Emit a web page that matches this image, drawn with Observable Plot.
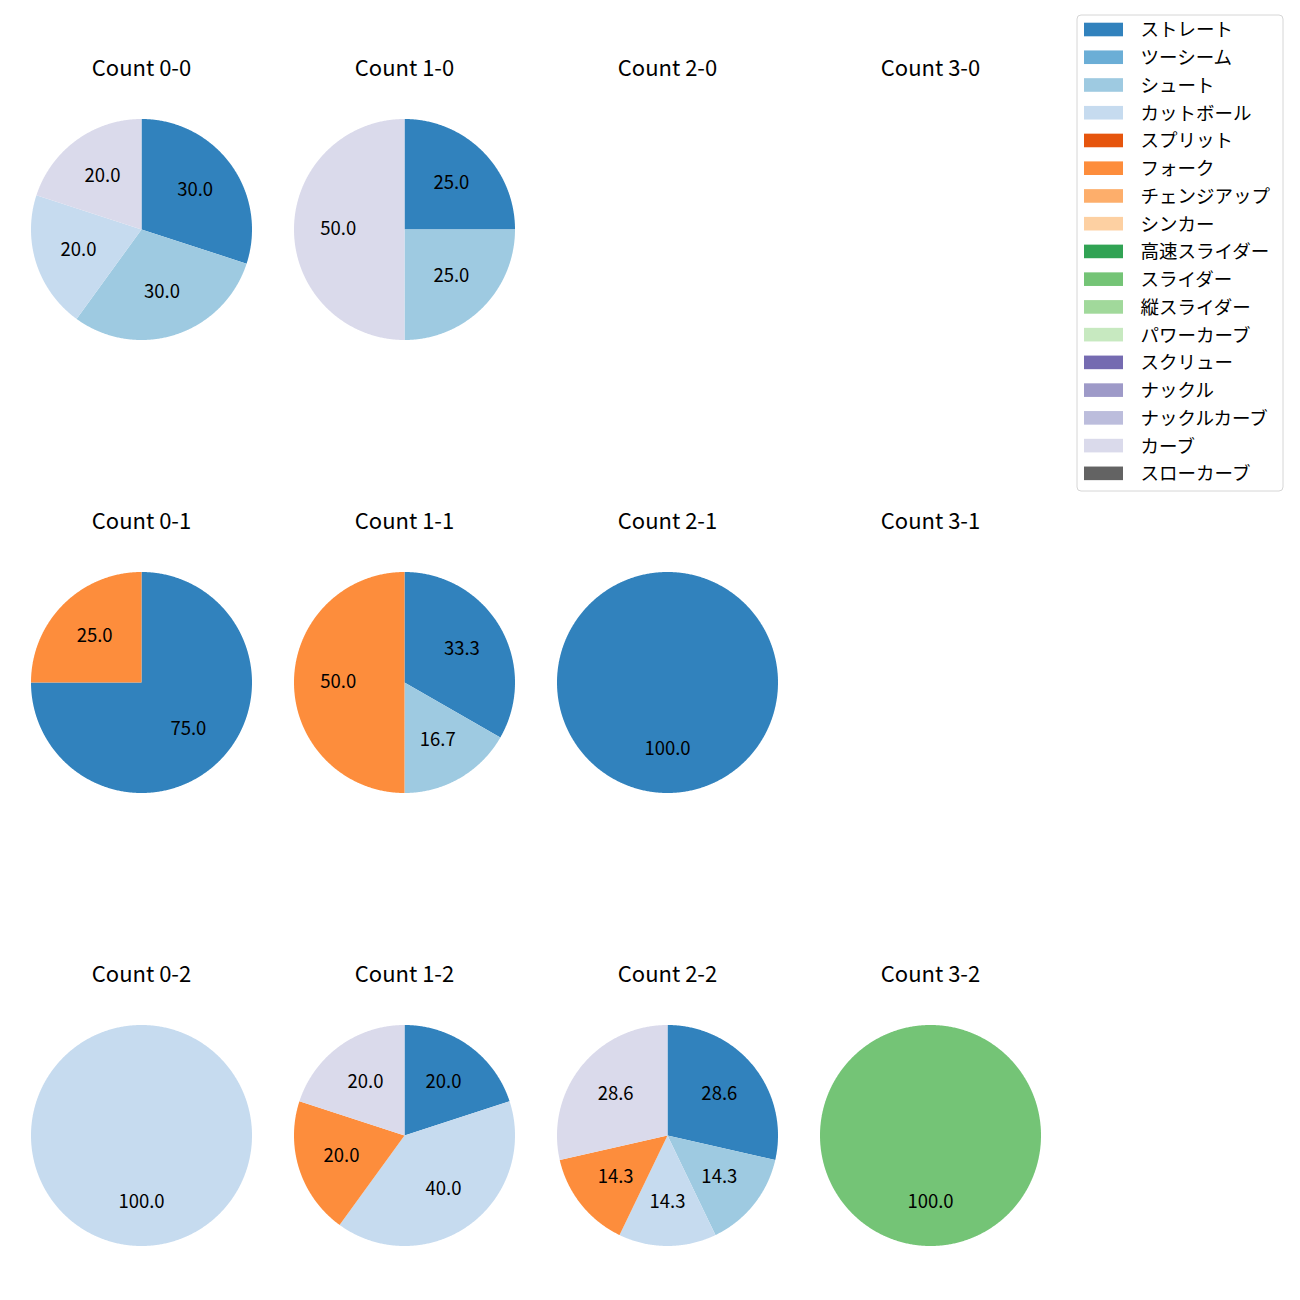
<!DOCTYPE html>
<html>
<head>
<meta charset="utf-8">
<script src="https://cdn.jsdelivr.net/npm/d3@7"></script>
<script src="https://cdn.jsdelivr.net/npm/@observablehq/plot@0.6"></script>
<style>
  html, body { margin: 0; padding: 0; background: #fff; }
  #chart svg { display: block; }
</style>
</head>
<body>
<div id="chart"></div>
<script>
// ---- data ----
const pitchTypes = ["ストレート","ツーシーム","シュート","カットボール","スプリット","フォーク","チェンジアップ","シンカー","高速スライダー","スライダー","縦スライダー","パワーカーブ","スクリュー","ナックル","ナックルカーブ","カーブ","スローカーブ"];
const pitchColors = ["#3182bd","#6baed6","#9ecae1","#c6dbef","#e6550d","#fd8d3c","#fdae6b","#fdd0a2","#31a354","#74c476","#a1d99b","#c7e9c0","#756bb1","#9e9ac8","#bcbddc","#dadaeb","#636363"];
const countNames = ["0-0","1-0","2-0","3-0","0-1","1-1","2-1","3-1","0-2","1-2","2-2","3-2"];
// [count, pitch, percent]
const shares = [
  ["0-0","ストレート",30.0],["0-0","シュート",30.0],["0-0","カットボール",20.0],["0-0","カーブ",20.0],
  ["1-0","ストレート",25.0],["1-0","シュート",25.0],["1-0","カーブ",50.0],
  ["0-1","ストレート",75.0],["0-1","フォーク",25.0],
  ["1-1","ストレート",33.3],["1-1","シュート",16.7],["1-1","フォーク",50.0],
  ["2-1","ストレート",100.0],
  ["0-2","カットボール",100.0],
  ["1-2","ストレート",20.0],["1-2","カットボール",40.0],["1-2","フォーク",20.0],["1-2","カーブ",20.0],
  ["2-2","ストレート",28.6],["2-2","シュート",14.3],["2-2","カットボール",14.3],["2-2","フォーク",14.3],["2-2","カーブ",28.6],
  ["3-2","スライダー",100.0]
];

// ---- layout (pixels) ----
const W = 1300, H = 1300;
const R = 110.5;
const colCenter = i => 141 + 263 * i;
const rowCenter = j => 229 + 453 * j;
const titleOffset = -160.5;
const FONT = "'Noto Sans CJK JP', 'Noto Sans', sans-serif";
const TITLE_SIZE = 22, LABEL_SIZE = 18.5, LEGEND_SIZE = 18.5;

// ---- build wedges ----
const wedgePts = [];
const pctLabels = [];
const titles = [];
countNames.forEach((c, k) => {
  const cx = colCenter(k % 4), cy = rowCenter(Math.floor(k / 4));
  titles.push({x: cx, y: cy + titleOffset, text: "Count " + c});
  const items = shares.filter(d => d[0] === c);
  const total = d3.sum(items, d => d[2]);
  let start = 90;
  items.forEach(([cnt, pitch, v]) => {
    const sweep = 360 * v / total;
    const a0 = start, a1 = start - sweep;
    const id = cnt + "|" + pitch;
    const n = Math.max(2, Math.ceil(sweep / 0.5));
    if (sweep < 359.99) wedgePts.push({id, pitch, x: cx, y: cy});
    for (let i = 0; i <= n; i++) {
      const a = (a0 + (a1 - a0) * i / n) * Math.PI / 180;
      wedgePts.push({id, pitch, x: cx + R * Math.cos(a), y: cy - R * Math.sin(a)});
    }
    const m = (a0 + a1) / 2 * Math.PI / 180;
    pctLabels.push({x: cx + 0.6 * R * Math.cos(m), y: cy - 0.6 * R * Math.sin(m), text: v.toFixed(1)});
    start = a1;
  });
});

// legend layout
const legX = 1077, legY = 15, legW = 206, legH = 476;
const legRow = i => 29.5 + 27.74 * i;
const legendItems = pitchTypes.map((p, i) => ({pitch: p, y: legRow(i)}));

const chart = Plot.plot({
  width: W, height: H,
  margin: 0,
  x: {domain: [0, W], range: [0, W], axis: null},
  y: {domain: [0, H], range: [0, H], axis: null},
  color: {domain: pitchTypes, range: pitchColors},
  style: {background: "#fff", fontFamily: FONT},
  marks: [
    Plot.line(wedgePts, {x: "x", y: "y", z: "id", fill: "pitch", stroke: "none", curve: "linear"}),
    Plot.text(pctLabels, {x: "x", y: "y", text: "text", fontSize: LABEL_SIZE, fill: "#000", lineAnchor: "middle", textAnchor: "middle", fontFamily: FONT}),
    Plot.text(titles, {x: "x", y: "y", text: "text", fontSize: TITLE_SIZE, fill: "#000", lineAnchor: "middle", textAnchor: "middle", fontFamily: FONT}),
    // legend
    Plot.rect([0], {x1: legX, x2: legX + legW, y1: legY, y2: legY + legH, fill: "#fff", stroke: "#d6d6d6", strokeWidth: 1, rx: 4}),
    Plot.rect(legendItems, {x1: 1084, x2: 1123, y1: d => d.y - 6.8, y2: d => d.y + 6.8, fill: "pitch"}),
    Plot.text(legendItems, {x: 1140, y: d => d.y + 0.5, text: "pitch", fontSize: LEGEND_SIZE, fill: "#000", textAnchor: "start", lineAnchor: "middle", fontFamily: FONT})
  ]
});
document.getElementById("chart").appendChild(chart);
</script>
</body>
</html>
